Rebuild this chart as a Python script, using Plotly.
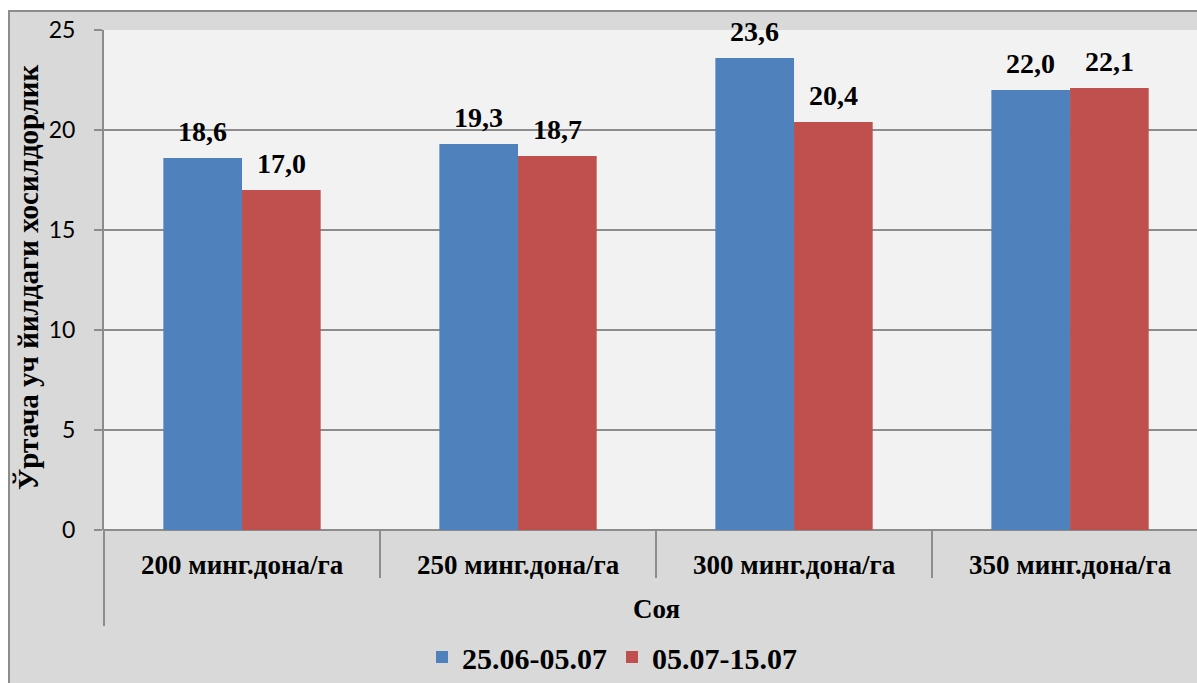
import plotly.graph_objects as go

# Yield data: four sowing densities of soybean, two sowing periods
categories = ["200 минг.дона/га", "250 минг.дона/га", "300 минг.дона/га", "350 минг.дона/га"]
group_label = "Соя"
series_names = ["25.06-05.07", "05.07-15.07"]
series_a = [18.6, 19.3, 23.6, 22.0]
series_b = [17.0, 18.7, 20.4, 22.1]
y_ticks = [0, 5, 10, 15, 20, 25]
y_title = "Ўртача уч йилдаги хосилдорлик"

BLUE = "#4f81bd"
RED = "#c0504d"
GRID = "#8c8c8c"
SERIF = "Liberation Serif, Times New Roman, serif"
SANS = "Open Sans, Noto Sans, sans-serif"

W, H = 1197, 683
ML, MT, MB = 104, 30, 153
BARGAP = 0.43
X_MIN = -0.5
X_MAX = 3.46

x_idx = list(range(len(categories)))


def fmt(v):
    return f"{v:.1f}".replace(".", ",")


fig = go.Figure()
fig.add_trace(go.Bar(x=x_idx, y=series_a, name=series_names[0], marker=dict(color=BLUE, line=dict(width=0))))
fig.add_trace(go.Bar(x=x_idx, y=series_b, name=series_names[1], marker=dict(color=RED, line=dict(width=0))))

half = (1 - BARGAP) / 4  # half of one bar's width in category units
annotations = []
for i, (a, b) in enumerate(zip(series_a, series_b)):
    for xv, v in ((i - half, a), (i + half, b)):
        annotations.append(dict(x=xv, y=v, xref="x", yref="y", text=f"<b>{fmt(v)}</b>",
                                showarrow=False, yanchor="middle", yshift=27,
                                font=dict(family=SERIF, size=28, color="black")))

# category labels below the axis
for i, c in enumerate(categories):
    annotations.append(dict(x=i, y=-0.07, xref="x", yref="paper", text=f"<b>{c}</b>",
                            showarrow=False, yanchor="middle",
                            font=dict(family=SERIF, size=27, color="black")))
annotations.append(dict(x=1.5, y=-0.158, xref="x", yref="paper", text=f"<b>{group_label}</b>",
                        showarrow=False, yanchor="middle",
                        font=dict(family=SERIF, size=27, color="black")))
annotations.append(dict(x=(28 - ML) / (W - ML), y=(530 - 278) / (H - MT - MB), xref="paper", yref="paper",
                        text=f"<b>{y_title}</b>", textangle=-90, showarrow=False,
                        xanchor="center", yanchor="middle",
                        font=dict(family=SERIF, size=29, color="black")))

shapes = [
    # chart area background with border
    dict(type="rect", xref="paper", yref="paper", layer="below",
         x0=(9 - ML) / (W - ML), x1=1.2, y0=1 + (MT - 11) / (H - MT - MB), y1=-0.5,
         fillcolor="#d9d9d9", line=dict(color=GRID, width=2)),
    # plot area background
    dict(type="rect", xref="paper", yref="paper", layer="below",
         x0=0, x1=1.05, y0=0, y1=1, fillcolor="#f2f2f2", line=dict(width=0)),
]
# category separators
for k in range(1, len(categories)):
    shapes.append(dict(type="line", xref="x", yref="paper", x0=k - 0.5, x1=k - 0.5,
                       y0=0, y1=-0.096, line=dict(color=GRID, width=2)))
shapes.append(dict(type="line", xref="paper", yref="paper", x0=0, x1=0,
                   y0=0, y1=-0.192, line=dict(color=GRID, width=2)))

fig.update_layout(
    width=W, height=H,
    margin=dict(l=ML, r=0, t=MT, b=MB, pad=0),
    paper_bgcolor="white",
    plot_bgcolor="rgba(0,0,0,0)",
    barmode="group", bargap=BARGAP, bargroupgap=0,
    showlegend=True,
    legend=dict(orientation="h", x=(612 - ML) / (W - ML), xanchor="center",
                y=-0.254, yanchor="middle", bgcolor="rgba(0,0,0,0)",
                font=dict(family=SERIF, size=30, color="black"),
                itemsizing="constant"),
    annotations=annotations,
    shapes=shapes,
    xaxis=dict(range=[X_MIN, X_MAX], showticklabels=False, ticks="", showgrid=False,
               zeroline=False, showline=False),
    yaxis=dict(range=[0, 25], tickvals=y_ticks, showgrid=True, gridcolor=GRID, gridwidth=1.5,
               zeroline=True, zerolinecolor=GRID, zerolinewidth=2,
               showline=True, linecolor=GRID, linewidth=2,
               ticks="outside", ticklen=8, tickcolor=GRID, tickwidth=2,
               ticklabelstandoff=14,
               tickfont=dict(family="Lato, Open Sans, sans-serif", size=23, color="black")),
)

fig.for_each_trace(lambda t: t.update(name=f"<b>{t.name}</b>"))

fig.write_html("out.html")
